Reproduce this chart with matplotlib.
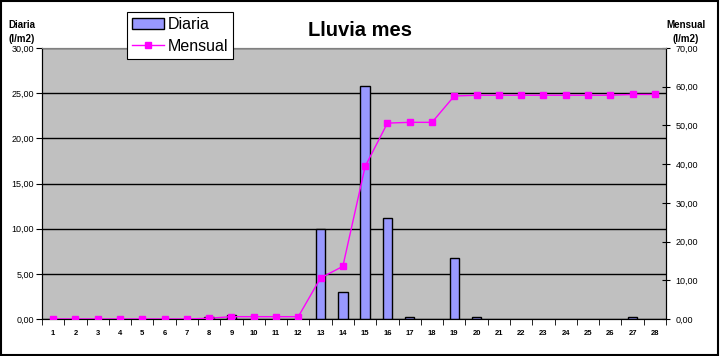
import matplotlib
matplotlib.use("Agg")
import matplotlib.pyplot as plt
from matplotlib.ticker import FuncFormatter, FixedLocator
from matplotlib.patches import Rectangle, Patch
import numpy as np

plt.rcParams['font.family'] = ['Liberation Sans', 'DejaVu Sans']

dias = list(range(1, 29))
diaria = [0, 0, 0, 0, 0, 0, 0, 0.2, 0.4, 0, 0, 0, 10.0, 3.0,
          25.8, 11.2, 0.2, 0, 6.8, 0.2, 0, 0, 0, 0, 0, 0, 0.2, 0]
mensual = [0, 0, 0, 0, 0, 0, 0, 0.2, 0.6, 0.6, 0.6, 0.6, 10.6, 13.6,
           39.4, 50.6, 50.8, 50.8, 57.6, 57.8, 57.8, 57.8, 57.8, 57.8,
           57.8, 57.8, 58.0, 58.0]

coma = FuncFormatter(lambda v, p: f"{v:.2f}".replace(".", ","))

fig = plt.figure(figsize=(7.2, 3.56), dpi=100)
fig.patches.append(Rectangle((0.002, 0.004), 0.995, 0.992, transform=fig.transFigure,
                             fill=False, edgecolor='black', linewidth=1.5))

ax = fig.add_axes([42/720, 37/356, 624/720, 271/356])
ax.set_facecolor('#C0C0C0')
# zero days get no outline
anchos = [1.0 if v > 0 else 0 for v in diaria]
ax.bar(dias, diaria, width=0.42, color='#9999FF', edgecolor='black', linewidth=anchos,
       zorder=3)
ax.set_xlim(0.5, 28.5)
ax.set_ylim(0, 30)
ax.set_yticks(np.arange(0, 31, 5))
ax.yaxis.set_major_formatter(coma)
ax.grid(axis='y', color='black', linewidth=1.0, zorder=1)
ax.set_axisbelow(True)
ax.set_xticks(dias)
ax.set_xticklabels([str(d) for d in dias], fontsize=5.5, fontweight='bold')
ax.xaxis.set_minor_locator(FixedLocator(np.arange(0.5, 29, 1)))
ax.tick_params(axis='x', which='major', length=0, pad=8)
ax.tick_params(axis='x', which='minor', length=4, direction='out', color='black')
ax.tick_params(axis='y', labelsize=6.5, length=4, direction='out', pad=2)
ax.spines['top'].set_color('#808080')
ax.spines['left'].set_color('black')
ax.spines['bottom'].set_color('black')
ax.spines['right'].set_color('black')

ax2 = ax.twinx()
ln, = ax2.plot(dias, mensual, color='#FF00FF', linewidth=1.0, marker='s',
               markersize=4.5, zorder=4, label='Mensual')
ax2.set_ylim(0, 70)
ax2.set_yticks(np.arange(0, 71, 10))
ax2.yaxis.set_major_formatter(coma)
ax2.tick_params(axis='y', labelsize=6.5, length=6, direction='inout', pad=4)
ax2.spines['top'].set_color('#808080')

fig.text(0.5, 0.915, 'Lluvia mes', ha='center', va='center', fontsize=14.5, fontweight='bold')
fig.text(22/720, 0.91, 'Diaria\n(l/m2)', ha='center', va='center', fontsize=7,
         fontweight='bold', linespacing=1.6)
fig.text(686/720, 0.91, 'Mensual\n(l/m2)', ha='center', va='center', fontsize=7,
         fontweight='bold', linespacing=1.6)

caja = Patch(facecolor='#9999FF', edgecolor='black', linewidth=1.0)
leg = fig.legend([caja, ln], ['Diaria', 'Mensual'], loc='upper left',
                 bbox_to_anchor=(127/720, 1 - 12/356), fontsize=11.5,
                 frameon=True, fancybox=False, edgecolor='black', framealpha=1,
                 borderpad=0.3, handlelength=2.0, handletextpad=0.25, labelspacing=0.45,
                 borderaxespad=0)
leg.get_frame().set_linewidth(0.8)
leg.set_zorder(10)

fig.savefig('out.png', dpi=100)
